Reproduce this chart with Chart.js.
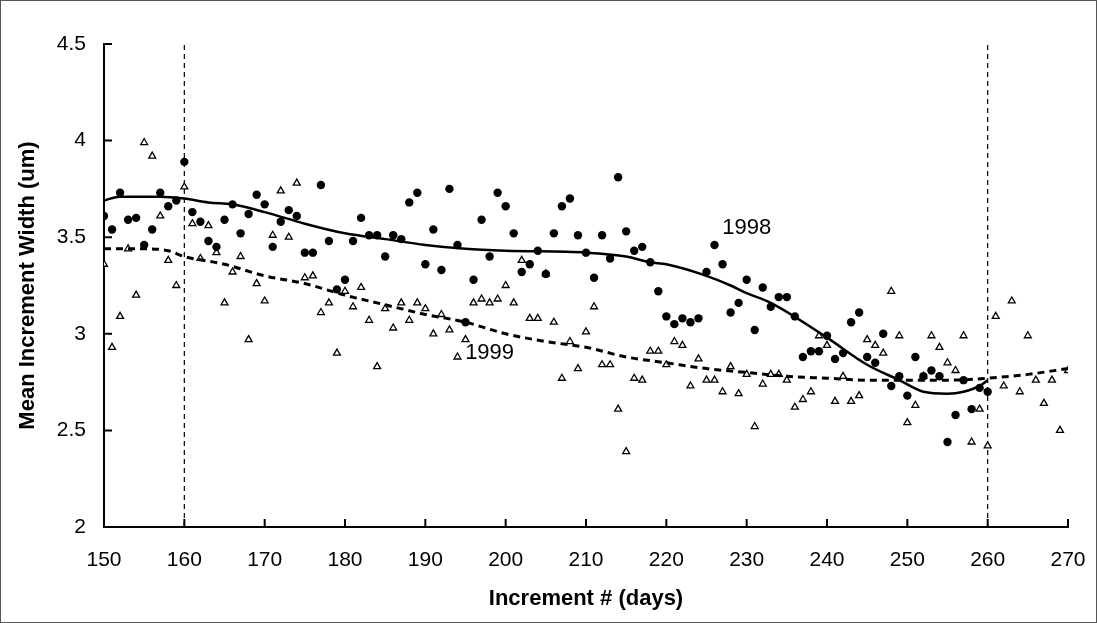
<!DOCTYPE html>
<html>
<head>
<meta charset="utf-8">
<script src="https://cdn.jsdelivr.net/npm/chart.js@4.4.1/dist/chart.umd.min.js"></script>
<style>
  body { margin: 0; background: #fff; }
  #wrap { width: 1097px; height: 623px; }
</style>
</head>
<body>
<div id="wrap"><canvas id="chart" width="1097" height="623"></canvas></div>
<script>
// days 150..260 for 1998, 150..270 for 1999
const days1998 = [];
for (let d = 150; d <= 260; d++) days1998.push(d);
const days1999 = [];
for (let d = 150; d <= 270; d++) days1999.push(d);

const width1998 = [
  3.61, 3.54, 3.73, 3.59, 3.60, 3.46, 3.54, 3.73, 3.66, 3.69,
  3.89, 3.63, 3.58, 3.48, 3.45, 3.59, 3.67, 3.52, 3.62, 3.72,
  3.67, 3.45, 3.58, 3.64, 3.61, 3.42, 3.42, 3.77, 3.48, 3.23,
  3.28, 3.48, 3.60, 3.51, 3.51, 3.40, 3.51, 3.49, 3.68, 3.73,
  3.36, 3.54, 3.33, 3.75, 3.46, 3.06, 3.28, 3.59, 3.40, 3.73,
  3.66, 3.52, 3.32, 3.36, 3.43, 3.31, 3.52, 3.66, 3.70, 3.51,
  3.42, 3.29, 3.51, 3.39, 3.81, 3.53, 3.43, 3.45, 3.37, 3.22,
  3.09, 3.05, 3.08, 3.06, 3.08, 3.32, 3.46, 3.36, 3.11, 3.16,
  3.28, 3.02, 3.24, 3.14, 3.19, 3.19, 3.09, 2.88, 2.91, 2.91,
  2.99, 2.87, 2.90, 3.06, 3.11, 2.88, 2.85, 3.00, 2.73, 2.78,
  2.68, 2.88, 2.78, 2.81, 2.78, 2.44, 2.58, 2.76, 2.61, 2.72,
  2.70
];

const width1999 = [
  3.36, 2.93, 3.09, 3.44, 3.20, 3.99, 3.92, 3.61, 3.38, 3.25,
  3.76, 3.57, 3.39, 3.56, 3.42, 3.16, 3.32, 3.40, 2.97, 3.26,
  3.17, 3.51, 3.74, 3.50, 3.78, 3.29, 3.30, 3.11, 3.16, 2.90,
  3.22, 3.14, 3.24, 3.07, 2.83, 3.13, 3.03, 3.16, 3.07, 3.16,
  3.13, 3.00, 3.10, 3.02, 2.88, 2.97, 3.16, 3.18, 3.16, 3.18,
  3.25, 3.16, 3.38, 3.08, 3.08, 3.31, 3.06, 2.77, 2.96, 2.82,
  3.01, 3.14, 2.84, 2.84, 2.61, 2.39, 2.77, 2.76, 2.91, 2.91,
  2.84, 2.96, 2.94, 2.73, 2.87, 2.76, 2.76, 2.70, 2.83, 2.69,
  2.79, 2.52, 2.74, 2.79, 2.79, 2.76, 2.62, 2.66, 2.70, 2.99,
  2.94, 2.65, 2.78, 2.65, 2.68, 2.97, 2.94, 2.90, 3.22, 2.99,
  2.54, 2.63, 2.78, 2.99, 2.93, 2.85, 2.81, 2.99, 2.44, 2.61,
  2.42, 3.09, 2.73, 3.17, 2.70, 2.99, 2.76, 2.64, 2.76, 2.50,
  2.81
];

// smoothed trend curves, read at a few days
const trendDays1998 = [150, 152, 157, 160, 163, 166, 170, 175, 180, 185, 190, 195, 200, 210, 215, 218, 220, 225, 228, 230, 233, 240, 245, 249, 252, 255, 257, 259, 260];
const trend1998 = [3.69, 3.71, 3.71, 3.70, 3.68, 3.67, 3.63, 3.57, 3.52, 3.49, 3.46, 3.44, 3.43, 3.42, 3.40, 3.37, 3.36, 3.30, 3.25, 3.21, 3.16, 2.98, 2.84, 2.76, 2.70, 2.69, 2.70, 2.73, 2.76];

const trendDays1999 = [150, 155, 158, 160, 165, 170, 175, 180, 185, 190, 195, 200, 205, 210, 215, 220, 225, 230, 235, 240, 245, 250, 255, 260, 265, 270];
const trend1999 = [3.44, 3.44, 3.43, 3.40, 3.36, 3.30, 3.26, 3.20, 3.15, 3.10, 3.06, 3.00, 2.96, 2.93, 2.88, 2.85, 2.82, 2.80, 2.78, 2.77, 2.76, 2.76, 2.76, 2.77, 2.79, 2.82];

const refDays = [160, 260];
const yMin = 2, yMax = 4.5;

const seriesLabels = [
  { text: '1998', x: 230, y: 3.55 },
  { text: '1999', x: 198, y: 2.90 }
];

const font = 'Arial, "Liberation Sans", sans-serif';

const pts = (xs, ys) => xs.map((x, i) => ({ x: x, y: ys[i] }));

const refSets = refDays.map(d => ({
  type: 'line',
  data: [{ x: d, y: yMin }, { x: d, y: yMax }],
  borderColor: '#000',
  borderWidth: 1.2,
  borderDash: [5, 4],
  pointRadius: 0,
  order: 5
}));

// inward tick marks, outer frame and series labels
const extras = {
  id: 'extras',
  beforeDraw(chart) {
    const ctx = chart.ctx;
    ctx.save();
    ctx.strokeStyle = '#555';
    ctx.lineWidth = 1;
    ctx.strokeRect(0.5, 0.5, chart.width - 1, chart.height - 1);
    ctx.restore();
  },
  afterDraw(chart) {
    const ctx = chart.ctx;
    const xs = chart.scales.x, ys = chart.scales.y;
    const a = chart.chartArea;
    ctx.save();
    ctx.strokeStyle = '#000';
    ctx.lineWidth = 2;
    ctx.beginPath();
    ys.ticks.forEach(t => {
      const py = ys.getPixelForValue(t.value);
      ctx.moveTo(a.left, py);
      ctx.lineTo(a.left + 8, py);
    });
    xs.ticks.forEach(t => {
      const px = xs.getPixelForValue(t.value);
      ctx.moveTo(px, a.bottom);
      ctx.lineTo(px, a.bottom - 8);
    });
    ctx.stroke();
    ctx.fillStyle = '#000';
    ctx.font = '22px ' + font;
    ctx.textAlign = 'center';
    ctx.textBaseline = 'middle';
    seriesLabels.forEach(l => {
      ctx.fillText(l.text, xs.getPixelForValue(l.x), ys.getPixelForValue(l.y));
    });
    ctx.restore();
  }
};

const ctx = document.getElementById('chart').getContext('2d');
new Chart(ctx, {
  type: 'scatter',
  data: {
    datasets: [
      {
        label: '1998 trend',
        type: 'line',
        data: pts(trendDays1998, trend1998),
        borderColor: '#000',
        borderWidth: 2.5,
        pointRadius: 0,
        cubicInterpolationMode: 'monotone',
        order: 1
      },
      {
        label: '1999 trend',
        type: 'line',
        data: pts(trendDays1999, trend1999),
        borderColor: '#000',
        borderWidth: 3,
        borderDash: [7, 5],
        pointRadius: 0,
        cubicInterpolationMode: 'monotone',
        order: 2
      },
      {
        label: '1998',
        data: pts(days1998, width1998),
        pointStyle: 'circle',
        pointRadius: 4.2,
        backgroundColor: '#000',
        borderColor: '#000',
        borderWidth: 0,
        order: 3
      },
      {
        label: '1999',
        data: pts(days1999, width1999),
        pointStyle: 'triangle',
        pointRadius: 4,
        backgroundColor: '#fff',
        borderColor: '#000',
        borderWidth: 1.3,
        order: 4
      },
      ...refSets
    ]
  },
  options: {
    responsive: false,
    animation: false,
    layout: { padding: { top: 44, right: 29, left: 0, bottom: 0 } },
    plugins: {
      legend: { display: false },
      tooltip: { enabled: false }
    },
    scales: {
      x: {
        type: 'linear',
        min: 150,
        max: 270,
        ticks: {
          stepSize: 10, color: '#000', padding: 21,
          font: { family: font, size: 21 },
          callback: v => String(v)
        },
        grid: { display: false, drawTicks: false, tickLength: 0 },
        border: { color: '#000', width: 2 },
        title: {
          display: true,
          text: 'Increment # (days)',
          color: '#000',
          font: { family: font, size: 22, weight: 'bold' },
          padding: { top: 4, bottom: 11 }
        },
        afterFit(scale) {
          scale.height = 96;
          scale.paddingLeft = 0;
          scale.paddingRight = 0;
        }
      },
      y: {
        min: yMin,
        max: yMax,
        ticks: {
          stepSize: 0.5, color: '#000', padding: 18,
          font: { family: font, size: 21 },
          callback: v => String(v)
        },
        grid: { display: false, drawTicks: false, tickLength: 0 },
        border: { color: '#000', width: 2 },
        title: {
          display: true,
          text: 'Mean Increment Width (um)',
          color: '#000',
          font: { family: font, size: 22, weight: 'bold' },
          padding: { top: 15, bottom: 0 }
        },
        afterFit(scale) {
          scale.width = 104;
          scale.paddingTop = 0;
          scale.paddingBottom = 0;
        }
      }
    }
  },
  plugins: [extras]
});
</script>
</body>
</html>
